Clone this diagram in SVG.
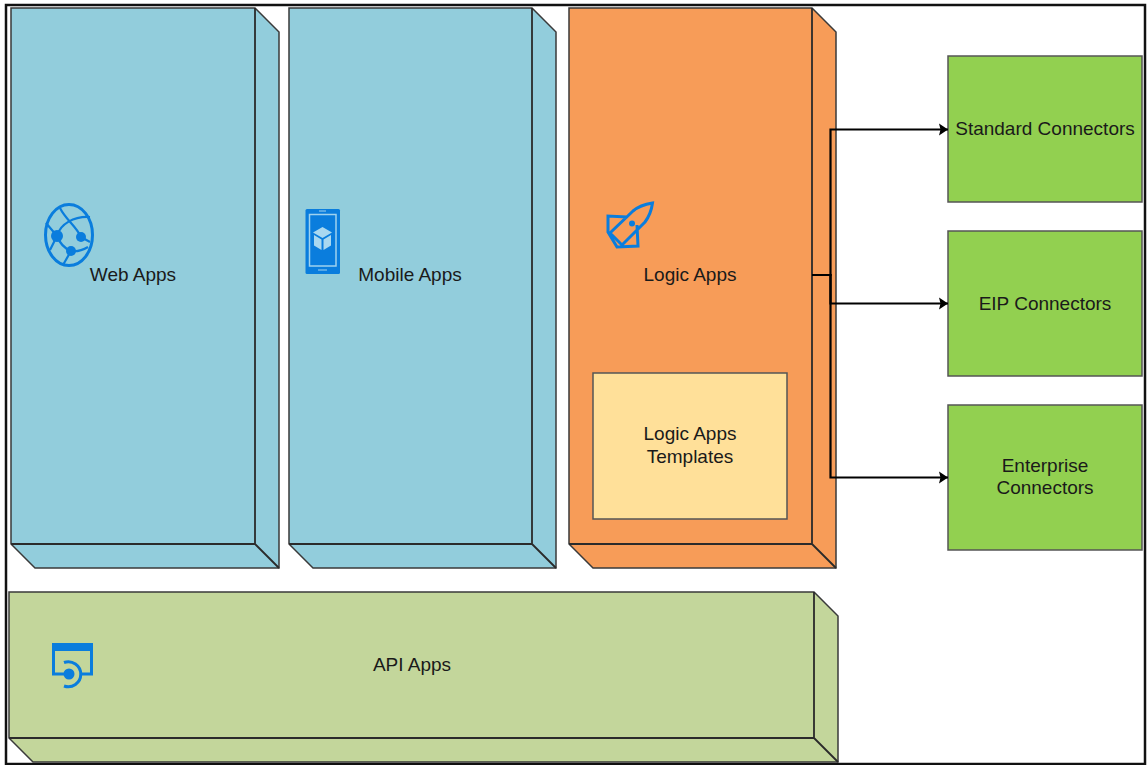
<svg xmlns="http://www.w3.org/2000/svg" width="1147" height="765" viewBox="0 0 1147 765">
<style>
text{font-family:"Liberation Sans",Arial,sans-serif;font-size:19px;fill:#1a1a1a;text-anchor:middle}
.e{stroke:#3a3a3a;stroke-width:1.500;stroke-linejoin:miter}
.in{fill:none;stroke:#2b2b2b;stroke-width:1.800}
.blue{fill:#92cddc}.orange{fill:#f79c58}.olive{fill:#c3d69b}.green{fill:#92d050}.yellow{fill:#ffe099}
.box{stroke:#555;stroke-width:1.500}
.c{fill:none;stroke:#000;stroke-width:2.200}
.i{fill:none;stroke:#0a7ddd;stroke-width:3}
.t{fill:none;stroke:#0a7ddd;stroke-width:2.200}
.f{fill:#0a7ddd}
</style>
<defs>
<marker id="a" markerUnits="userSpaceOnUse" markerWidth="10" markerHeight="13" refX="9" refY="6.500" orient="auto"><path d="M0 .5L9 6.500L0 12.500L1.500 6.500Z" fill="#000"/></marker>
</defs>
<rect width="1147" height="765" fill="#fff"/>
<rect x="6" y="5" width="1139" height="759" fill="none" stroke="#111" stroke-width="2.500"/>
<g id="web-apps">
<path class="blue e" d="M11 8H255L279 32V568H35L11 544Z"/>
<path class="in" d="M11 544H255V8M255 544L279 568"/>
<g id="web-icon"><ellipse class="i" cx="69" cy="235" rx="23.500" ry="30.500"/><path class="t" d="M57 236C60 224 74 216 90 217M60 208C66 220 76 226 81 237M57 236C60 244 66 249 71 251C77 252 83 250 88 247M81 237L90 242M57 236L50 250M46 223L57 236M71 251L63 265"/><circle class="f" cx="57" cy="236" r="6"/><circle class="f" cx="81" cy="237" r="5"/><circle class="f" cx="71" cy="251" r="5"/></g>
<text x="133" y="281">Web Apps</text>
</g>
<g id="mobile-apps">
<path class="blue e" d="M289 8H532L556 32V568H313L289 544Z"/>
<path class="in" d="M289 544H532V8M532 544L556 568"/>
<g id="mobile-icon"><rect class="f" x="305.500" y="209" width="34.500" height="65" rx="1.500"/><rect x="309.500" y="214.500" width="26.500" height="51.500" fill="none" stroke="#9fd2ee" stroke-width="1.500"/><path fill="#a9d8f0" d="M322.500 227L332 232.500L322.500 238L313 232.500ZM314 235L321.500 239.500V250L314 245.500ZM331 235V245.500L323.500 250V239.500Z"/><path d="M319 211H326M318 270H327" stroke="#9fd2ee" stroke-width="1"/></g>
<text x="410" y="281">Mobile Apps</text>
</g>
<g id="logic-apps">
<path class="orange e" d="M569 8H812L836 32V568H593L569 544Z"/>
<path class="in" d="M569 544H812V8M812 544L836 568"/>
<g id="logic-icon"><path class="i" d="M652.500 203Q640 205 633 211L610 233L622 245L645 222Q651 214 652.500 203ZM627 217L608 216V232L617 247L638 246L637 225"/><circle class="f" cx="632" cy="223.500" r="3"/></g>
<text x="690" y="281">Logic Apps</text>
<g id="logic-apps-templates">
<rect class="yellow box" x="593" y="373" width="194" height="146"/>
<text x="690" y="440">Logic Apps</text><text x="690" y="463">Templates</text>
</g>
</g>
<g id="api-apps">
<path class="olive e" d="M9 592H814L838 616V762H33L9 738Z"/>
<path class="in" d="M9 738H814V592M814 738L838 762"/>
<g id="api-icon"><path class="i" d="M64 674H53.500V645H91.500V674H80"/><path class="f" d="M52 643H93V651H52Z"/><path class="i" d="M64 662.500A12.500 12.500 0 1 1 64 686"/><circle class="f" cx="69" cy="674" r="5.500"/></g>
<text x="412" y="671">API Apps</text>
</g>
<g id="standard-connectors"><rect class="green box" x="948" y="56" width="194" height="146"/><text x="1045" y="135">Standard Connectors</text></g>
<g id="eip-connectors"><rect class="green box" x="948" y="231" width="194" height="145"/><text x="1045" y="310">EIP Connectors</text></g>
<g id="enterprise-connectors"><rect class="green box" x="948" y="405" width="194" height="145"/><text x="1045" y="472">Enterprise</text><text x="1045" y="494">Connectors</text></g>
<g id="connectors">
<path class="c" marker-end="url(#a)" d="M812 275H830.500V129.500H948"/>
<path class="c" marker-end="url(#a)" d="M812 275H830.500V303.500H948"/>
<path class="c" marker-end="url(#a)" d="M812 275H830.500V477.500H948"/>
</g>
</svg>
